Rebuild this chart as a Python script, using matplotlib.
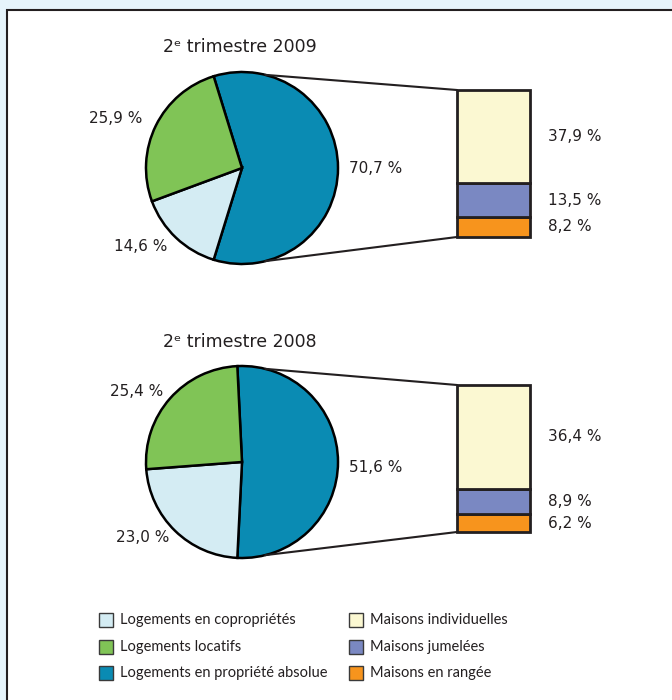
import numpy as np
import matplotlib
matplotlib.use("Agg")
import matplotlib.pyplot as plt
from matplotlib.patches import Rectangle, ConnectionPatch

# data
periods = ["2009", "2008"]
copro = [14.6, 23.0]            # Logements en copropriétés
locatif = [25.9, 25.4]          # Logements locatifs
absolue_label = [70.7, 51.6]    # printed label of "propriété absolue"
maisons_ind = [37.9, 36.4]      # Maisons individuelles
maisons_jum = [13.5, 8.9]       # Maisons jumelées
maisons_rang = [8.2, 6.2]       # Maisons en rangée

pie_names = ["Logements en copropriétés", "Logements locatifs", "Logements en propriété absolue"]
bar_names = ["Maisons individuelles", "Maisons jumelées", "Maisons en rangée"]

c_copro = "#D4ECF3"
c_loc = "#80C456"
c_abs = "#0A8BB3"
c_ind = "#FBF8D2"
c_jum = "#7A88C2"
c_rang = "#F7941D"
edge = "#231F20"

W, H = 672, 700
fig = plt.figure(figsize=(W / 100, H / 100), dpi=100)
fig.patch.set_facecolor("#E6F4FB")
fig.add_artist(Rectangle((7 / W, -0.1), 1.2, 1 - 10 / H + 0.1, transform=fig.transFigure,
                         facecolor="white", edgecolor=edge, linewidth=1.5, zorder=-5))


def px(x0, y0, x1, y1):
    return [x0 / W, 1 - y1 / H, (x1 - x0) / W, (y1 - y0) / H]


def fmt(v):
    return f"{v:.1f} %".replace(".", ",")


pie_tops = [72, 366]
bar_tops = [90, 385]
title_y = [47, 342]
# label offsets from pie centre, in pixels (abs, copro, locatif)
label_off = [[(134, 0), (-101, -78), (-126, 50)],
             [(134, -5), (-99, -76), (-105, 71)]]

for i, per in enumerate(periods):
    ax = fig.add_axes(px(146, pie_tops[i], 338, pie_tops[i] + 192))
    # the blue wedge is drawn as the sum of the three house types
    blue = maisons_ind[i] + maisons_jum[i] + maisons_rang[i]
    vals = [blue, copro[i], locatif[i]]
    frac = blue / sum(vals)
    wedges, _ = ax.pie(vals, colors=[c_abs, c_copro, c_loc], startangle=180 * frac,
                       counterclock=False, radius=1,
                       wedgeprops=dict(edgecolor="black", linewidth=1.8))
    for w in wedges:
        w.set_clip_on(False)
    for lab, (dx, dy) in zip([absolue_label[i], copro[i], locatif[i]], label_off[i]):
        ax.text(dx / 96, dy / 96, fmt(lab), ha="center", va="center",
                fontsize=11, color=edge)
    ax.set_xlim(-1, 1)
    ax.set_ylim(-1, 1)
    ax.axis("off")

    fig.text(240 / W, 1 - title_y[i] / H, f"2\u1d49 trimestre {per}",
             ha="center", va="center", fontsize=12.5, color=edge)

    # stacked bar
    bx = fig.add_axes(px(457, bar_tops[i], 530, bar_tops[i] + 147))
    parts = [maisons_rang[i], maisons_jum[i], maisons_ind[i]]
    cols = [c_rang, c_jum, c_ind]
    bottom = 0
    for v, c in zip(parts, cols):
        b = bx.bar(0, v, bottom=bottom, width=1, color=c, edgecolor=edge, linewidth=2)
        b[0].set_clip_on(False)
        bx.text(1.24, bottom + v / 2, fmt(v), transform=bx.get_yaxis_transform(),
                ha="left", va="center", fontsize=11, color=edge)
        bottom += v
    bx.set_xlim(-0.5, 0.5)
    bx.set_ylim(0, bottom)
    bx.axis("off")

    # connecting lines
    a = np.deg2rad(76)
    for sgn, ytarget in [(1, bottom), (-1, 0)]:
        con = ConnectionPatch(xyA=(np.cos(a), sgn * np.sin(a)), coordsA=ax.transData,
                              xyB=(-0.5, ytarget), coordsB=bx.transData,
                              color=edge, linewidth=1.5)
        fig.add_artist(con)

# legend
rows = [620, 647, 673]
for col, (names, cols) in enumerate([(pie_names, [c_copro, c_loc, c_abs]),
                                     (bar_names, [c_ind, c_jum, c_rang])]):
    x0 = [99, 349][col]
    for name, c, yc in zip(names, cols, rows):
        fig.add_artist(Rectangle((x0 / W, 1 - (yc + 7) / H), 14 / W, 14 / H,
                                 transform=fig.transFigure, facecolor=c,
                                 edgecolor="#3a3a3a", linewidth=1))
        fig.text((x0 + 21) / W, 1 - yc / H, name, ha="left", va="center",
                 fontsize=10.5, family=["Lato", "DejaVu Sans"], color=edge)

fig.savefig("out.png", dpi=100, facecolor=fig.get_facecolor())
